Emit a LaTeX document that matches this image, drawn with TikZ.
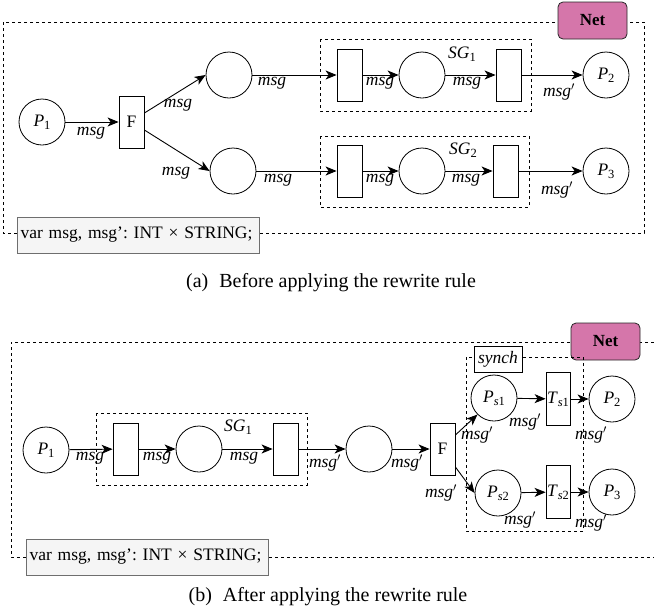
\documentclass[tikz,border=0pt]{standalone}
\usepackage{fontspec}
\setmainfont{Liberation Serif}
\usetikzlibrary{arrows.meta,calc}
\definecolor{netpink}{RGB}{213,118,170}
\definecolor{varfill}{RGB}{245,245,245}
\definecolor{vardraw}{RGB}{110,110,110}
\newcommand\sub[2]{\textit{#1}\raisebox{-0.35ex}{\fontsize{12.5}{13}\selectfont #2}}
\newcommand\msgp{\textit{msg}$'$}
\frenchspacing
\begin{document}
\frenchspacing
\begin{tikzpicture}[x=1pt,y=-1pt,
  every node/.style={font=\fontsize{17.5}{19}\selectfont},
  pl/.style={circle,draw,line width=0.8pt,minimum size=46pt,inner sep=0pt},
  tr/.style={rectangle,draw,line width=0.8pt,minimum width=25pt,minimum height=52pt,inner sep=0pt},
  arr/.style={line width=0.9pt,-{Stealth[length=11pt,width=9pt,inset=3pt]}},
  dbox/.style={draw,line width=0.7pt,dash pattern=on 3pt off 3pt},
  lbl/.style={font=\fontsize{17.5}{19}\selectfont\itshape,inner sep=0pt},
  netbox/.style={draw=black!85,line width=0.8pt,fill=netpink,rounded corners=5pt,minimum width=69pt,minimum height=37pt,font=\fontsize{17}{19}\selectfont\bfseries},
  varbox/.style={draw=vardraw,line width=0.8pt,fill=varfill,minimum width=242pt,minimum height=36pt,inner sep=0pt,inner xsep=3.5pt,text width=235pt,align=left,font=\fontsize{17.5}{19}\selectfont\frenchspacing},
  captext/.style={font=\fontsize{20}{22}\selectfont,inner sep=0pt},
  synchbox/.style={draw,line width=0.8pt,fill=white,minimum width=48pt,minimum height=26pt,inner sep=0pt,font=\fontsize{17.5}{19}\selectfont\itshape}
  ]
\useasboundingbox (0,0) rectangle (654,611);
% ================= (a) =================
\draw[dbox] (3,22) rectangle (644,233);
\node[netbox] (netA) at (592.5,20.5) {Net};
\draw[dbox] (320,39) rectangle (531,111);
\draw[dbox] (320,136) rectangle (529,207);
\node[pl] (P1A) at (42,122) {\sub{P}{1}};
\node[tr] (FA) at (131.5,122) {F};
\node[pl] (uA) at (229,75) {};
\node[pl] (lA) at (233,171) {};
\node[tr] (s1a) at (349.5,75) {};
\node[pl] (s1b) at (422,75) {};
\node[tr] (s1c) at (508.5,75) {};
\node[pl] (P2A) at (606,75) {\sub{P}{2}};
\node[tr] (s2a) at (349.5,171) {};
\node[pl] (s2b) at (422,171) {};
\node[tr] (s2c) at (505.5,171) {};
\node[pl] (P3A) at (606,171) {\sub{P}{3}};
\draw[arr] (P1A) -- (FA);
\draw[arr] ([yshift=9pt]FA.east) -- (uA.west);
\draw[arr] ([yshift=-8pt]FA.east) -- (lA.west);
\draw[arr] (uA) -- (s1a);
\draw[arr] (s1a) -- (s1b);
\draw[arr] (s1b) -- (s1c);
\draw[arr] (s1c) -- (P2A);
\draw[arr] (lA) -- (s2a);
\draw[arr] (s2a) -- (s2b);
\draw[arr] (s2b) -- (s2c);
\draw[arr] (s2c) -- (P3A);
\node[lbl] (la1) at (91,133) {msg};
\node[lbl] (la2) at (178,105) {msg};
\node[lbl] (la3) at (176,173) {msg};
\node[lbl] (la4) at (272,83) {msg};
\node[lbl] (la5) at (278,180) {msg};
\node[lbl] (la6) at (380,83) {msg};
\node[lbl] (la7) at (467,83) {msg};
\node[lbl] (la8) at (559,92) {\msgp};
\node[lbl] (la9) at (380,180) {msg};
\node[lbl] (la10) at (466,180) {msg};
\node[lbl] (la11) at (557,190) {\msgp};
\node[inner sep=0pt] (sgA1) at (462,54) {\sub{SG}{1}};
\node[inner sep=0pt] (sgA2) at (463,150) {\sub{SG}{2}};
\node[varbox] (varA) at (138,235) {var msg, msg{\char"0027}: INT × STRING;};
\node[captext] (capA) at (331,283) {(a)\hspace{0.55em}Before applying the rewrite rule};
% ================= (b) =================
\draw[dbox] (654,342) -- (11,342) -- (11,557) -- (654,557);
\node[netbox] (netB) at (605.5,341.5) {Net};
\draw[dbox] (96,413) rectangle (307,485);
\draw[dbox] (466,357) rectangle (583,531);
\node[synchbox] (syn) at (498,359) {synch};
\node[pl] (P1B) at (46,450) {\sub{P}{1}};
\node[tr] (b1) at (125.5,449) {};
\node[pl] (b2) at (199,449) {};
\node[tr] (b3) at (285.5,449) {};
\node[pl] (b4) at (369,449) {};
\node[tr] (FB) at (442.5,449) {F};
\node[pl] (Ps1) at (494,398) {\textit{P}\raisebox{-0.35ex}{\fontsize{12.5}{13}\selectfont\textit{s}1}};
\node[tr,minimum width=24pt,minimum height=53pt] (Ts1) at (558,399) {\textit{T}\raisebox{-0.35ex}{\fontsize{12.5}{13}\selectfont\textit{s}1}};
\node[pl] (P2B) at (612,399) {\sub{P}{2}};
\node[pl] (Ps2) at (498,493) {\textit{P}\raisebox{-0.35ex}{\fontsize{12.5}{13}\selectfont\textit{s}2}};
\node[tr,minimum width=24pt,minimum height=53pt] (Ts2) at (558,492) {\textit{T}\raisebox{-0.35ex}{\fontsize{12.5}{13}\selectfont\textit{s}2}};
\node[pl] (P3B) at (612,492) {\sub{P}{3}};
\draw[arr] (P1B) -- (b1);
\draw[arr] (b1) -- (b2);
\draw[arr] (b2) -- (b3);
\draw[arr] (b3) -- (b4);
\draw[arr] (b4) -- (FB);
\draw[arr] ([yshift=14pt]FB.east) -- (Ps1.225);
\draw[arr] ([yshift=-18pt]FB.east) -- (Ps2.west);
\draw[arr] (Ps1) -- (Ts1);
\draw[arr] (Ts1) -- (P2B);
\draw[arr] (Ps2) -- (Ts2);
\draw[arr] (Ts2) -- (P3B);
\node[lbl] (lb1) at (90,458) {msg};
\node[lbl] (lb2) at (157,458) {msg};
\node[lbl] (lb3) at (244,458) {msg};
\node[lbl] (lb4) at (325,463) {\msgp};
\node[lbl] (lb5) at (407,463) {\msgp};
\node[lbl] (lb6) at (477,435) {\msgp};
\node[lbl] (lb7) at (441,493) {\msgp};
\node[lbl] (lb8) at (525,422) {\msgp};
\node[lbl] (lb9) at (591,435) {\msgp};
\node[lbl] (lb10) at (520,520) {\msgp};
\node[lbl] (lb11) at (591,523) {\msgp};
\node[inner sep=0pt] (sgB1) at (238,427) {\sub{SG}{1}};
\node[varbox] (varB) at (147,557) {var msg, msg{\char"0027}: INT × STRING;};
\node[captext] (capB) at (328,597) {(b)\hspace{0.55em}After applying the rewrite rule};
\end{tikzpicture}
\end{document}
